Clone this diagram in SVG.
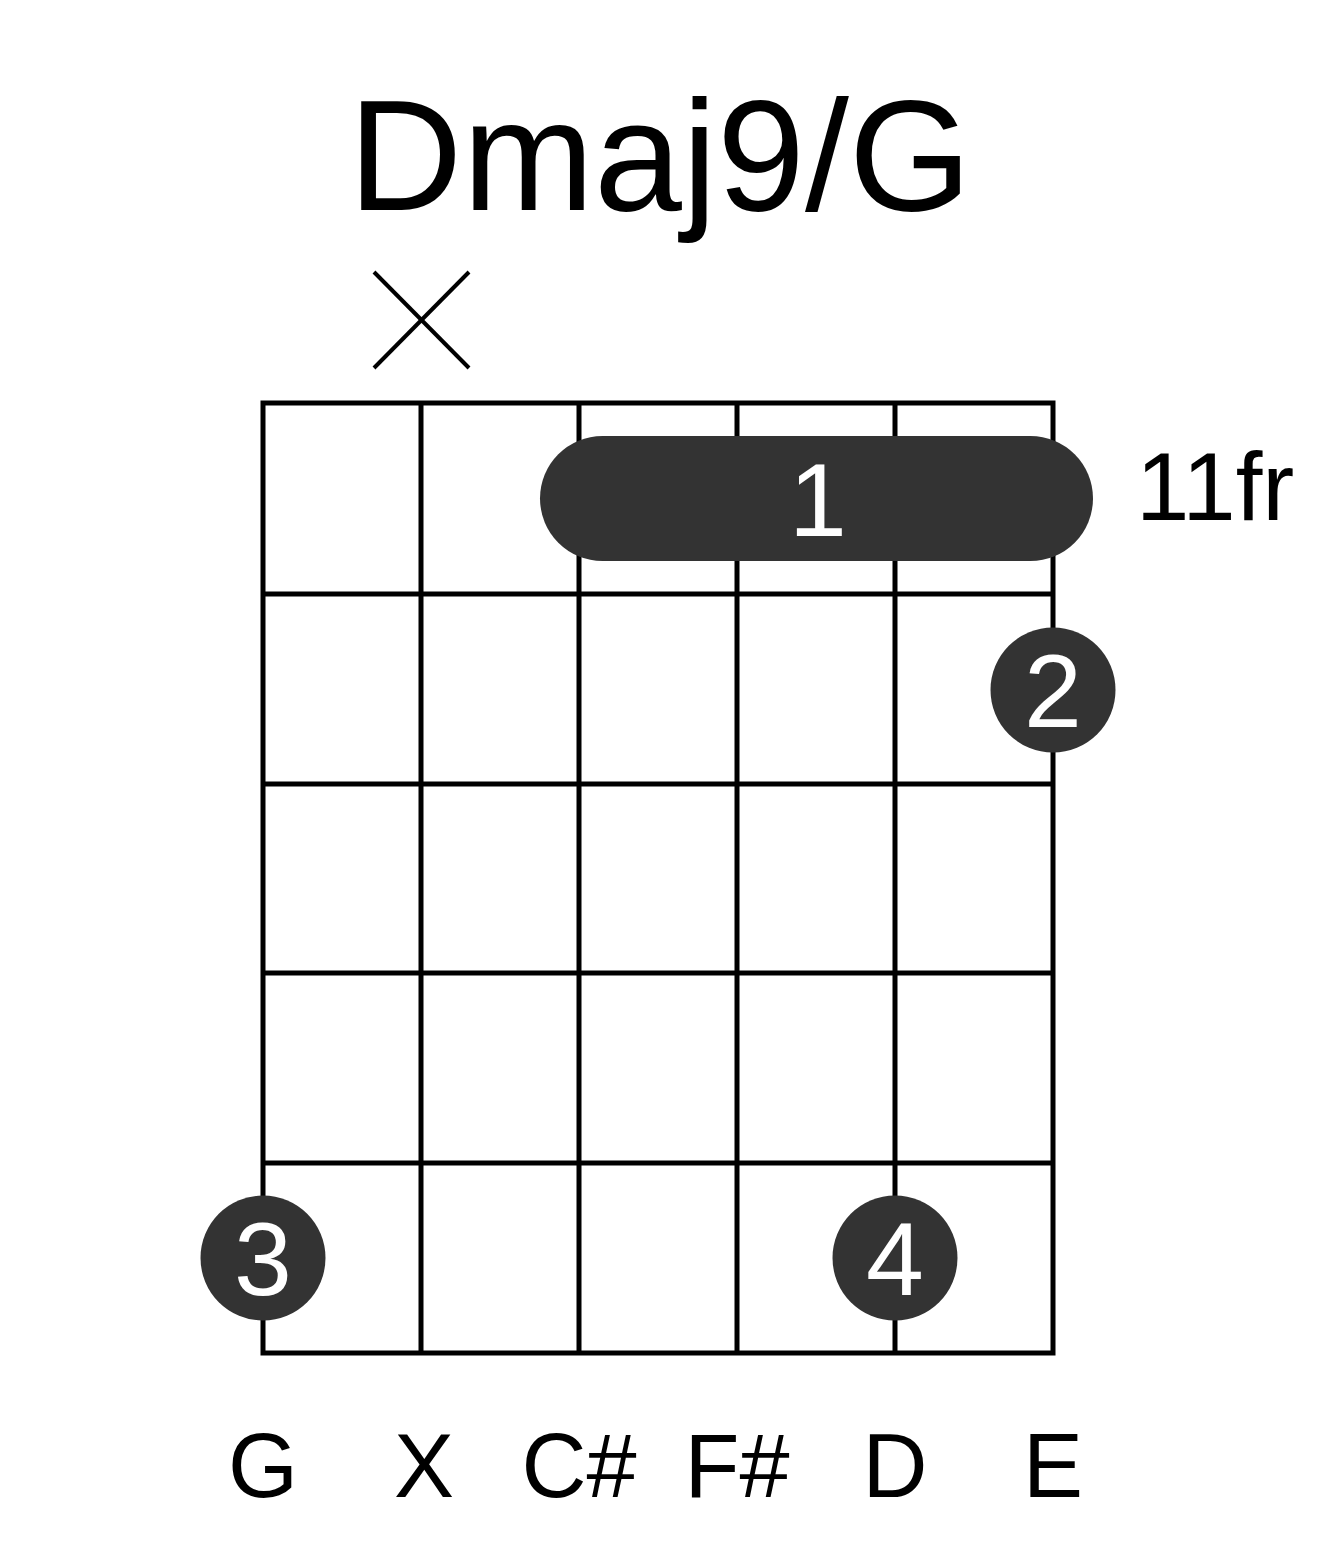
<svg xmlns="http://www.w3.org/2000/svg" width="1317" height="1551" viewBox="0 0 1317 1551">
<style>
.t{font-family:"Liberation Sans",Arial,sans-serif;fill:#000}
.g{stroke:#000;stroke-width:5;fill:none}
.dot{fill:#333}
.n{font-family:"Liberation Sans",Arial,sans-serif;fill:#fff;font-size:104px;text-anchor:middle}
.lab{font-family:"Liberation Sans",Arial,sans-serif;font-size:90px;text-anchor:middle}
</style>
<rect width="1317" height="1551" fill="#fff"/>
<text id="title" class="t" x="660" y="210" font-size="158" text-anchor="middle">Dmaj9/G</text>
<g id="mute" stroke="#000" stroke-width="4">
<line x1="374" y1="272" x2="469" y2="368"/>
<line x1="469" y1="272" x2="374" y2="368"/>
</g>
<g id="grid" class="g">
<rect x="263" y="403" width="790" height="950"/>
<line x1="421" y1="403" x2="421" y2="1353"/>
<line x1="579" y1="403" x2="579" y2="1353"/>
<line x1="737" y1="403" x2="737" y2="1353"/>
<line x1="895" y1="403" x2="895" y2="1353"/>
<line x1="263" y1="594" x2="1053" y2="594"/>
<line x1="263" y1="784" x2="1053" y2="784"/>
<line x1="263" y1="973" x2="1053" y2="973"/>
<line x1="263" y1="1163" x2="1053" y2="1163"/>
</g>
<g id="barre">
<rect class="dot" x="540" y="436" width="553" height="125" rx="62.5"/>
<text class="n" x="818" y="536">1</text>
</g>
<g id="finger2">
<circle class="dot" cx="1053" cy="690" r="62.5"/>
<text class="n" x="1053" y="727">2</text>
</g>
<g id="finger3">
<circle class="dot" cx="263" cy="1258" r="62.5"/>
<text class="n" x="263" y="1295">3</text>
</g>
<g id="finger4">
<circle class="dot" cx="895" cy="1258" r="62.5"/>
<text class="n" x="895" y="1295">4</text>
</g>
<text id="fret" class="t" x="1136" y="520" font-size="96">11fr</text>
<g id="labels" class="t">
<text class="lab" x="263" y="1497">G</text>
<text class="lab" x="424" y="1497">X</text>
<text class="lab" x="579" y="1497">C#</text>
<text class="lab" x="737" y="1497">F#</text>
<text class="lab" x="895" y="1497">D</text>
<text class="lab" x="1053" y="1497">E</text>
</g>
</svg>
